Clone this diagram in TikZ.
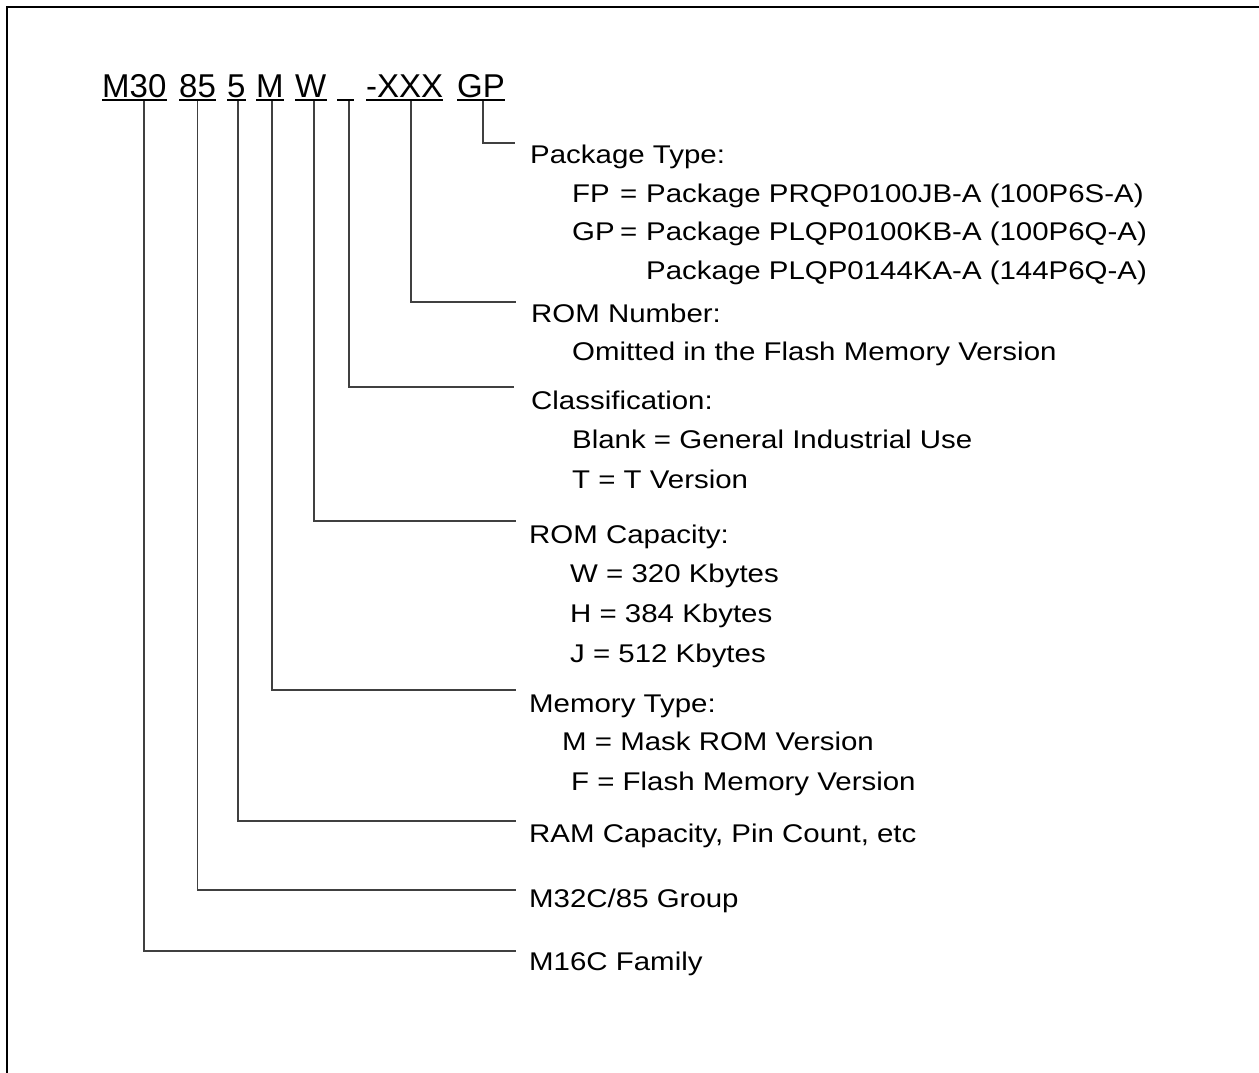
\documentclass[tikz,border=0pt]{standalone}
\usepackage{fontspec}
\setmainfont{Liberation Sans}
\newfontfamily\lblfont[FakeStretch=1.15]{Liberation Sans}
\begin{document}
\begin{tikzpicture}[x=1pt,y=-1pt,
  code/.style={font=\fontsize{33}{33}\selectfont, inner sep=0pt, anchor=base west},
  lbl/.style={font=\lblfont\fontsize{25.6}{25.6}\selectfont, inner sep=0pt, anchor=base west},
  lead/.style={line width=1.1pt, draw=black!75},
  uline/.style={line width=2pt},
  frame/.style={line width=2pt}]
\useasboundingbox (0,0) rectangle (1259,1073);
\draw[frame] (6.5,1085) -- (6.5,7.5) -- (1270,7.5);

% part number
\node[code] (m30) at (102,97) {M30};
\node[code] (n85) at (179,97) {85};
\node[code] (n5) at (227,97) {5};
\node[code] (mm) at (256,97) {M};
\node[code] (ww) at (295,97) {W};
\node[code, minimum width=17pt] (blank) at (337,97) {};
\node[code] (xxx) at (366,97) {-XXX};
\node[code] (gp) at (457,97) {GP};
\coordinate (ul) at (0,100);
\foreach \n in {m30,n85,n5,mm,ww,xxx,gp}
  \draw[uline] (\n.west |- ul) -- (\n.east |- ul);
\draw[uline] (337,100) -- (354,100);

% labels
\node[lbl] (pkg) at (530,163) {Package Type:};
\node[lbl] (fp) at (572,202) {FP};
\node[lbl] (fpeq) at (620,202) {=};
\node[lbl] (fpt) at (646,202) {Package PRQP0100JB-A (100P6S-A)};
\node[lbl] (gpl) at (572,240) {GP};
\node[lbl] (gpeq) at (620,240) {=};
\node[lbl] (gpt) at (646,240) {Package PLQP0100KB-A (100P6Q-A)};
\node[lbl] (gpt2) at (646,279) {Package PLQP0144KA-A (144P6Q-A)};
\node[lbl] (romn) at (531,322) {ROM Number:};
\node[lbl] (omit) at (572,360) {Omitted in the Flash Memory Version};
\node[lbl] (cls) at (531,409) {Classification:};
\node[lbl] (blk) at (572,448) {Blank = General Industrial Use};
\node[lbl] (tv) at (572,488) {T = T Version};
\node[lbl] (romc) at (529,543) {ROM Capacity:};
\node[lbl] (w320) at (570,582) {W = 320 Kbytes};
\node[lbl] (h384) at (570,622) {H = 384 Kbytes};
\node[lbl] (j512) at (570,662) {J = 512 Kbytes};
\node[lbl] (memt) at (529,712) {Memory Type:};
\node[lbl] (mask) at (562,750) {M = Mask ROM Version};
\node[lbl] (flash) at (571,790) {F = Flash Memory Version};
\node[lbl] (ram) at (529,842) {RAM Capacity, Pin Count, etc};
\node[lbl] (grp) at (529,907) {M32C/85 Group};
\node[lbl] (fam) at (529,970) {M16C Family};

% leader start and end points
\coordinate (s1) at (144,101);   \coordinate (e1) at (516,951);
\coordinate (s2) at (197.5,101); \coordinate (e2) at (516,890);
\coordinate (s3) at (238,101);   \coordinate (e3) at (516,821);
\coordinate (s4) at (272,101);   \coordinate (e4) at (516,690);
\coordinate (s5) at (314,101);   \coordinate (e5) at (516,521);
\coordinate (s6) at (349,101);   \coordinate (e6) at (514,387);
\coordinate (s7) at (411,101);   \coordinate (e7) at (516,302);
\coordinate (s8) at (483,101);   \coordinate (e8) at (515,143);
\foreach \i in {1,...,8}
  \draw[lead] (s\i) |- (e\i);
\end{tikzpicture}
\end{document}
